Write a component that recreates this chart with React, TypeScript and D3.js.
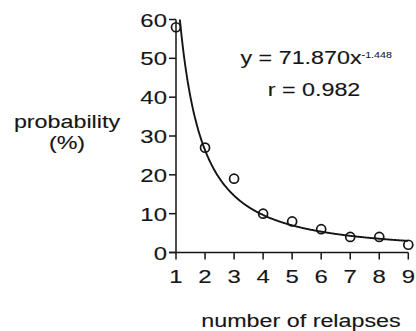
import React from 'react';
import * as d3 from 'd3';

// relapse count vs probability (%)
const relapses = [1, 2, 3, 4, 5, 6, 7, 8, 9];
const probability = [58, 27, 19, 10, 8, 6, 4, 4, 2];
const yTicks = [0, 10, 20, 30, 40, 50, 60];
// fitted power curve printed on the chart
const fitCoef = 71.87;
const fitExp = -1.448;

const W = 416;
const H = 331;
const FONT = "'Liberation Sans', Arial, Helvetica, sans-serif";
const SX = 1.26;

const STxt = ({ x, y, anchor = 'middle', size = 18.5, children }: any) => (
  <text
    transform={`translate(${x},${y}) scale(${SX},1)`}
    textAnchor={anchor}
    fontSize={size}
    fontFamily={FONT}
    fill="#151515"
    stroke="#151515"
    strokeWidth={0.12}
  >
    {children}
  </text>
);

export default function App() {
  const x = d3.scaleLinear().domain([1, 9]).range([176, 408.3]);
  const y = d3.scaleLinear().domain([0, 60]).range([252.5, 19.5]);

  const fitX = d3.range(1, 9.0001, 0.02);
  const line = d3
    .line<number>()
    .x(d => x(d))
    .y(d => y(fitCoef * Math.pow(d, fitExp)))
    .curve(d3.curveLinear);

  const stroke = '#151515';

  return (
    <svg
      width={W}
      height={H}
      style={{ position: 'absolute', left: 0, top: 0, background: '#fff' }}
    >
      <defs>
        <clipPath id="plot">
          <rect x={170} y={y(60)} width={250} height={y(0) - y(60) + 2} />
        </clipPath>
      </defs>

      {/* y axis */}
      <line x1={x(1)} x2={x(1)} y1={y(60)} y2={y(0)} stroke={stroke} strokeWidth={1.5} />
      {yTicks.map(t => (
        <g key={'y' + t}>
          <line x1={x(1) - 7} x2={x(1)} y1={y(t)} y2={y(t)} stroke={stroke} strokeWidth={1.5} />
          <STxt x={167} y={y(t) + 7} anchor="end" size={19}>
            {t}
          </STxt>
        </g>
      ))}

      {/* x axis */}
      <line x1={x(1) - 7} x2={x(9)} y1={y(0)} y2={y(0)} stroke={stroke} strokeWidth={1.5} />
      {relapses.map(r => (
        <g key={'x' + r}>
          <line x1={x(r)} x2={x(r)} y1={y(0)} y2={y(0) + 7} stroke={stroke} strokeWidth={1.5} />
          <STxt x={x(r)} y={283} size={19}>
            {r}
          </STxt>
        </g>
      ))}

      {/* fitted curve */}
      <path d={line(fitX) || ''} fill="none" stroke={stroke} strokeWidth={1.9} clipPath="url(#plot)" />

      {/* observations */}
      {relapses.map((r, i) => (
        <circle
          key={'p' + r}
          cx={x(r)}
          cy={y(probability[i])}
          r={4.5}
          fill="none"
          stroke={stroke}
          strokeWidth={1.7}
        />
      ))}

      {/* equation */}
      <STxt x={240.5} y={64} anchor="start">
        y = 71.870x
        <tspan fontSize={8.5} dy={-6.5} strokeWidth={0.05}>-1.448</tspan>
      </STxt>
      <STxt x={314} y={96}>r = 0.982</STxt>

      {/* axis titles */}
      <STxt x={67} y={128}>probability</STxt>
      <STxt x={67} y={149}>(%)</STxt>
      <STxt x={301} y={327}>number of relapses</STxt>
    </svg>
  );
}
